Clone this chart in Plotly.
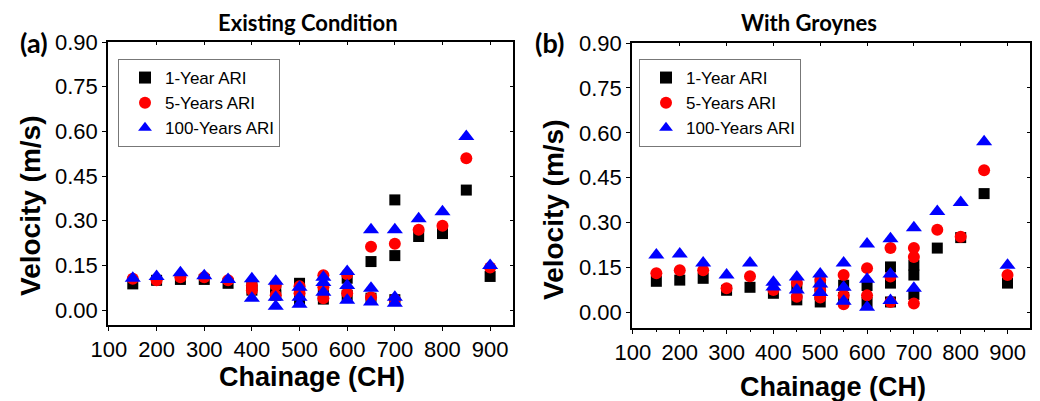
import plotly.graph_objects as go

# ---------------- Panel (a): Existing Condition ----------------
a_x_1yr = [150, 200, 250, 300, 350, 400, 400, 450, 450, 500, 500, 500, 550, 550, 600, 600, 650, 650, 700, 700, 700, 750, 800, 850, 900]
a_y_1yr = [0.088, 0.100, 0.103, 0.103, 0.090, 0.083, 0.067, 0.075, 0.050, 0.090, 0.060, 0.035, 0.050, 0.037, 0.107, 0.050, 0.163, 0.040, 0.370, 0.183, 0.035, 0.247, 0.257, 0.403, 0.113]

a_x_5yr = [150, 200, 250, 300, 350, 400, 400, 450, 450, 500, 500, 550, 550, 550, 600, 600, 650, 650, 700, 700, 750, 800, 850, 900]
a_y_5yr = [0.105, 0.100, 0.110, 0.110, 0.100, 0.083, 0.067, 0.083, 0.050, 0.080, 0.057, 0.117, 0.077, 0.040, 0.120, 0.057, 0.213, 0.043, 0.223, 0.035, 0.270, 0.283, 0.510, 0.143]

a_x_100yr = [150, 200, 250, 300, 350, 400, 400, 450, 450, 450, 500, 500, 500, 550, 550, 550, 600, 600, 600, 650, 650, 650, 700, 700, 700, 750, 800, 850, 900]
a_y_100yr = [0.107, 0.113, 0.125, 0.115, 0.103, 0.105, 0.040, 0.097, 0.043, 0.013, 0.077, 0.043, 0.020, 0.110, 0.093, 0.060, 0.130, 0.083, 0.033, 0.270, 0.073, 0.027, 0.270, 0.043, 0.023, 0.307, 0.330, 0.583, 0.150]

# ---------------- Panel (b): With Groynes ----------------
b_x_1yr = [150, 200, 250, 300, 350, 400, 450, 450, 500, 500, 500, 550, 550, 600, 600, 650, 650, 650, 700, 700, 700, 750, 800, 850, 900]
b_y_1yr = [0.104, 0.108, 0.114, 0.074, 0.084, 0.064, 0.085, 0.042, 0.085, 0.060, 0.035, 0.091, 0.050, 0.090, 0.034, 0.152, 0.098, 0.035, 0.158, 0.125, 0.060, 0.215, 0.250, 0.397, 0.098]

b_x_5yr = [150, 200, 250, 300, 350, 400, 450, 450, 500, 500, 500, 550, 550, 550, 600, 600, 650, 650, 650, 700, 700, 700, 750, 800, 850, 900]
b_y_5yr = [0.131, 0.141, 0.141, 0.081, 0.121, 0.075, 0.098, 0.052, 0.108, 0.075, 0.050, 0.125, 0.057, 0.027, 0.148, 0.057, 0.215, 0.120, 0.035, 0.215, 0.185, 0.030, 0.276, 0.253, 0.475, 0.125]

b_x_100yr = [150, 200, 250, 300, 350, 400, 400, 450, 450, 500, 500, 500, 550, 550, 550, 600, 600, 600, 650, 650, 650, 700, 700, 750, 800, 850, 900]
b_y_100yr = [0.192, 0.195, 0.165, 0.125, 0.165, 0.101, 0.085, 0.118, 0.075, 0.128, 0.095, 0.067, 0.165, 0.084, 0.037, 0.229, 0.111, 0.017, 0.246, 0.128, 0.040, 0.283, 0.081, 0.337, 0.367, 0.570, 0.158]

series_names = ["1-Year ARI", "5-Years ARI", "100-Years ARI"]
panel_titles = ["Existing Condition", "With Groynes"]
panel_labels = ["(a)", "(b)"]
x_title = "Chainage (CH)"
y_title = "Velocity (m/s)"

colors = ["#000000", "#ff0000", "#0000ff"]
symbols = ["square", "circle", "triangle-up"]
sizes = [11, 12, 14]

TICK_FONT = dict(family="Liberation Sans, Arial, sans-serif", size=22, color="black")
BOLD = "Liberation Sans, Arial, sans-serif"
TITLE_FAMILY = "Lato, Open Sans, sans-serif"

fig = go.Figure()

panels = [
    ([a_x_1yr, a_x_5yr, a_x_100yr], [a_y_1yr, a_y_5yr, a_y_100yr], "x", "y", "legend"),
    ([b_x_1yr, b_x_5yr, b_x_100yr], [b_y_1yr, b_y_5yr, b_y_100yr], "x2", "y2", "legend2"),
]
for xs, ys, xa, ya, lg in panels:
    for i in range(3):
        fig.add_trace(go.Scatter(
            x=xs[i], y=ys[i], mode="markers", name=series_names[i],
            xaxis=xa, yaxis=ya, legend=lg,
            marker=dict(symbol=symbols[i], color=colors[i], size=sizes[i], line=dict(width=0)),
        ))

# empty traces to create mirror-tick overlay axes (inside ticks on top/right)
fig.add_trace(go.Scatter(x=[], y=[], xaxis="x3", yaxis="y3", showlegend=False, hoverinfo="skip"))
fig.add_trace(go.Scatter(x=[], y=[], xaxis="x4", yaxis="y4", showlegend=False, hoverinfo="skip"))

xrng = [98, 948]
dom_a_x = [108 / 1040, 513 / 1040]
dom_b_x = [632 / 1040, 1030 / 1040]
dom_a_y = [1 - 325 / 401, 1 - 42 / 401]
dom_b_y = [1 - 328 / 401, 1 - 43 / 401]
yrng_a = [-0.05, 0.9001]
yrng_b = [-0.052, 0.9001]

def xax(dom, anchor, minor=False):
    d = dict(domain=dom, anchor=anchor, range=xrng, tick0=100, dtick=100,
             showline=True, linecolor="black", linewidth=1.5, mirror=True,
             ticks="outside", ticklen=4, tickwidth=1, tickcolor="black",
             tickfont=TICK_FONT, showgrid=False, zeroline=False, fixedrange=True,
             automargin=False)
    if minor:
        d["minor"] = dict(dtick=50, tick0=100, ticks="outside", ticklen=2, tickcolor="black", showgrid=False)
    return d

def yax(dom, anchor, rng):
    return dict(domain=dom, anchor=anchor, range=rng, tick0=0, dtick=0.15, tickformat=".2f",
                showline=True, linecolor="black", linewidth=1.5, mirror=True,
                ticks="outside", ticklen=4, tickwidth=1, tickcolor="black",
                tickfont=TICK_FONT, showgrid=False, zeroline=False, fixedrange=True,
                automargin=False)

def xover(over, anchor, dom):
    return dict(overlaying=over, anchor=anchor, side="top", domain=dom, range=xrng, tick0=100, dtick=100,
                ticks="inside", ticklen=3, tickcolor="black", showticklabels=False,
                showline=False, showgrid=False, zeroline=False, fixedrange=True, automargin=False)

def yover(over, anchor, rng, dom):
    return dict(overlaying=over, anchor=anchor, side="right", domain=dom, range=rng, tick0=0, dtick=0.15,
                ticks="inside", ticklen=3, tickcolor="black", showticklabels=False,
                showline=False, showgrid=False, zeroline=False, fixedrange=True, automargin=False)

legend_common = dict(font=dict(family="Liberation Sans, Arial, sans-serif", size=17, color="black"),
                     bgcolor="white", bordercolor="#777777", borderwidth=1, indentation=6,
                     xanchor="left", yanchor="top", tracegroupgap=0, itemsizing="constant")

def ann(text, x, y, family, size, angle=0):
    return dict(text=text, x=x / 1040, y=1 - y / 401, xref="paper", yref="paper", textangle=angle,
                showarrow=False, font=dict(family=family, size=size, color="black"),
                xanchor="center", yanchor="middle")

annotations = [
    ann("<b>%s</b>" % panel_titles[0], 308, 23, TITLE_FAMILY, 22),
    ann("<b>%s</b>" % panel_titles[1], 809, 23, TITLE_FAMILY, 22),
    ann("<b>%s</b>" % panel_labels[0], 34, 42, TITLE_FAMILY, 27),
    ann("<b>%s</b>" % panel_labels[1], 549, 42, TITLE_FAMILY, 27),
    ann("<b>%s</b>" % x_title, 312, 377, BOLD, 27),
    ann("<b>%s</b>" % x_title, 833, 387, BOLD, 27),
    ann("<b>%s</b>" % y_title, 30, 206, BOLD, 28, -90),
    ann("<b>%s</b>" % y_title, 553, 210, BOLD, 28, -90),
]

fig.update_layout(
    width=1040, height=401, margin=dict(l=0, r=0, t=0, b=0, autoexpand=False),
    paper_bgcolor="white", plot_bgcolor="white",
    xaxis=xax(dom_a_x, "y"), yaxis=yax(dom_a_y, "x", yrng_a),
    xaxis2=xax(dom_b_x, "y2", minor=True), yaxis2=yax(dom_b_y, "x2", yrng_b),
    xaxis3=xover("x", "y3", dom_a_x), yaxis3=yover("y", "x3", yrng_a, dom_a_y),
    xaxis4=xover("x2", "y4", dom_b_x), yaxis4=yover("y2", "x4", yrng_b, dom_b_y),
    legend=dict(x=118 / 1040, y=1 - 59 / 401, **legend_common),
    legend2=dict(x=639 / 1040, y=1 - 59 / 401, **legend_common),
    annotations=annotations,
    showlegend=True,
)

fig.write_html("out.html", post_script="document.body.style.margin='0';document.body.style.padding='0';")
